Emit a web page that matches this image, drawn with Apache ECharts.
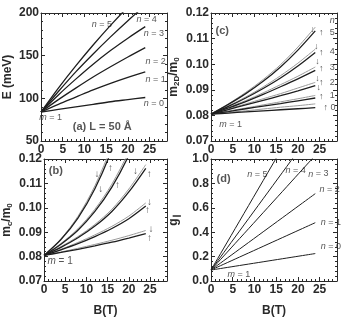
<!DOCTYPE html>
<html>
<head>
<meta charset="utf-8">
<script src="https://cdn.jsdelivr.net/npm/echarts@6/dist/echarts.min.js"></script>
<style>
  html, body { margin: 0; padding: 0; background: #fff; }
  #chart { width: 341px; height: 318px; }
</style>
</head>
<body>
<div id="chart"></div>
<script>
// field values, B in tesla
const fieldB = [0, 4, 8, 12, 16, 20, 24];
const xTicks = [0, 5, 10, 15, 20, 25];

// (a) energy, meV
const energyN0 = [84, 87, 90, 93, 96, 98.5, 101];
const energyN1 = [84, 93, 101.5, 110, 117.5, 124.5, 131];
const energyN2 = [84, 98.5, 112, 125, 137, 148.5, 159.5];
const energyN3 = [84, 104, 122.5, 140, 156, 170.5, 184];
const energyN4 = [84, 108, 131, 152, 172, 191, 209];
const energyN5 = [84, 112, 138, 162.5, 185.5, 207, 227];

// (b) cyclotron mass, spin up (dark) / spin down (light)
const mcUpN0 = [0.0805, 0.0817, 0.0830, 0.0844, 0.0859, 0.0876, 0.0894];
const mcUpN1 = [0.0805, 0.0828, 0.0853, 0.0882, 0.0915, 0.0955, 0.1007];
const mcUpN2 = [0.0805, 0.0838, 0.0877, 0.0925, 0.0985, 0.1065, 0.1162];
const mcUpN3 = [0.0805, 0.0851, 0.0908, 0.0985, 0.1085, 0.1215, 0.1380];
const mcUpN4 = [0.0805, 0.0870, 0.0958, 0.1078, 0.1240, 0.1460, 0.1700];
const mcDnN0 = [0.0805, 0.0819, 0.0834, 0.0850, 0.0867, 0.0886, 0.0907];
const mcDnN1 = [0.0805, 0.0830, 0.0858, 0.0889, 0.0924, 0.0966, 0.1020];
const mcDnN2 = [0.0805, 0.0841, 0.0882, 0.0932, 0.0994, 0.1077, 0.1177];
const mcDnN3 = [0.0805, 0.0854, 0.0914, 0.0994, 0.1097, 0.1230, 0.1390];
const mcDnN4 = [0.0805, 0.0873, 0.0965, 0.1090, 0.1258, 0.1480, 0.1720];

// (c) 2D mass
const m2dUpN0 = [0.0805, 0.0809, 0.0814, 0.0818, 0.0822, 0.0826, 0.0830];
const m2dUpN1 = [0.0805, 0.0815, 0.0826, 0.0836, 0.0846, 0.0857, 0.0868];
const m2dUpN2 = [0.0805, 0.0823, 0.0841, 0.0859, 0.0877, 0.0896, 0.0916];
const m2dUpN3 = [0.0805, 0.0829, 0.0854, 0.0882, 0.0912, 0.0943, 0.0976];
const m2dUpN4 = [0.0805, 0.0835, 0.0868, 0.0905, 0.0946, 0.0993, 0.1046];
const m2dUpN5 = [0.0805, 0.0843, 0.0885, 0.0933, 0.0989, 0.1055, 0.1130];
const m2dDnN0 = [0.0805, 0.0812, 0.0818, 0.0825, 0.0832, 0.0838, 0.0845];
const m2dDnN1 = [0.0805, 0.0817, 0.0829, 0.0841, 0.0853, 0.0865, 0.0878];
const m2dDnN2 = [0.0805, 0.0825, 0.0845, 0.0865, 0.0885, 0.0907, 0.0929];
const m2dDnN3 = [0.0805, 0.0831, 0.0858, 0.0888, 0.0920, 0.0953, 0.0989];
const m2dDnN4 = [0.0805, 0.0837, 0.0872, 0.0911, 0.0955, 0.1004, 0.1059];
const m2dDnN5 = [0.0805, 0.0845, 0.0890, 0.0940, 0.0998, 0.1067, 0.1145];

// (d) g factor, straight lines
const gField = [0, 24];
const gN0 = [0.09, 0.225];
const gN1 = [0.09, 0.478];
const gN2 = [0.09, 0.716];
const gN3 = [0.09, 1.03];
const gN4 = [0.09, 1.258];
const gN5 = [0.09, 1.556];

// annotations [B, value, text]
const notesA = [
  [14, 187, '{i|n} = 5'], [24.3, 192, '{i|n} = 4'], [26, 176.5, '{i|n} = 3'],
  [26.4, 142.6, '{i|n} = 2'], [26.4, 121.5, '{i|n} = 1'], [26, 94.5, '{i|n} = 0'],
  [2.2, 78, '{i|m} = 1'], [14.1, 66.4, '{b|(a) L = 50 Å}']
];
const notesB = [
  [2.8, 0.1151, '{b|(b)}'], [3.8, 0.0781, '{i|m} = 1'],
  [12.5, 0.1139, '↓'], [15.7, 0.1164, '↑'], [13.4, 0.1074, '↓'], [17.3, 0.1093, '↑'],
  [21.6, 0.1151, '↓'], [24.8, 0.1136, '↑'], [24.9, 0.1023, '↓'], [24.4, 0.0991, '↑'],
  [25.2, 0.0914, '↓'], [24.9, 0.0876, '↑']
];
const notesC = [
  [2.6, 0.1130, '{b|(c)}'], [4.5, 0.0763, '{i|m} = 1'],
  [27.9, 0.1169, '{i|n}'], [27.9, 0.1122, '5'], [27.9, 0.1048, '4'], [27.9, 0.0989, '3'],
  [27.9, 0.0930, '2'], [27.9, 0.0876, '1'], [28.1, 0.0829, '0'],
  [23.3, 0.1134, '↓'], [25.4, 0.1122, '↑'], [24.2, 0.1068, '↓'], [25.4, 0.1044, '↑'],
  [24.5, 0.1010, '↓'], [25.4, 0.0985, '↑'], [24.5, 0.0946, '↓'], [25.4, 0.0927, '↑'],
  [24.8, 0.0907, '↓'], [25.4, 0.0872, '↑'], [26.4, 0.0829, '↑']
];
const notesD = [
  [2.9, 0.84, '{b|(d)}'], [10.7, 0.875, '{i|n} = 5'], [19.5, 0.908, '{i|n} = 4'],
  [24.7, 0.877, '{i|n} = 3'], [27.3, 0.746, '{i|n} = 2'], [27.6, 0.477, '{i|n} = 1'],
  [27.6, 0.285, '{i|n} = 0'], [6.4, 0.054, '{i|m} = 1']
];

const FONT = 'Liberation Sans';
const INK = '#2a2a2a';

const panels = [
  { left: 41, top: 13, height: 128, ymin: 50, ymax: 200, step: 50, digits: 0,
    name: 'E (meV)', xName: '' },
  { left: 41, top: 159, height: 130, ymin: 0.07, ymax: 0.12, step: 0.01, digits: 2,
    name: '{t|m}{s|c}{t|/m}{s|0}', xName: 'B(T)' },
  { left: 211, top: 13, height: 128, ymin: 0.07, ymax: 0.12, step: 0.01, digits: 2,
    name: '{t|m}{s|2D}{t|/m}{s|0}', xName: '' },
  { left: 211, top: 159, height: 130, ymin: 0, ymax: 1, step: 0.2, digits: 1,
    name: '{t|g}{s|∥}', xName: 'B(T)' }
];

const nameRich = {
  t: { fontFamily: FONT, fontSize: 12, fontWeight: 'bold', color: INK },
  s: { fontFamily: FONT, fontSize: 8, fontWeight: 'bold', color: INK, verticalAlign: 'bottom', padding: [6, 0, 0, 0] }
};

const grids = [], xAxes = [], yAxes = [];
panels.forEach((p, i) => {
  grids.push({ left: p.left, top: p.top, width: 126, height: p.height, show: false });
  const common = {
    gridIndex: i,
    axisLine: { show: true, onZero: false, lineStyle: { color: INK, width: 1 } },
    axisTick: { show: true, inside: true, length: 4, lineStyle: { color: INK } },
    minorTick: { show: true, splitNumber: 5, length: 2, lineStyle: { color: INK } },
    splitLine: { show: false }
  };
  xAxes.push(Object.assign({}, common, {
    type: 'value', position: 'bottom', min: 0, max: 29, interval: 5,
    axisLabel: { fontFamily: FONT, fontSize: 12, fontWeight: 'bold', color: INK, margin: 3,
      formatter: v => (xTicks.indexOf(v) >= 0 ? String(v) : '') },
    name: p.xName, nameLocation: 'middle', nameGap: 24,
    nameTextStyle: { fontFamily: FONT, fontSize: 12, fontWeight: 'bold', color: INK }
  }));
  xAxes.push(Object.assign({}, common, {
    type: 'value', position: 'top', min: 0, max: 29, interval: 5, axisLabel: { show: false }
  }));
  yAxes.push(Object.assign({}, common, {
    type: 'value', position: 'left', min: p.ymin, max: p.ymax, interval: p.step,
    axisLabel: { fontFamily: FONT, fontSize: 12, fontWeight: 'bold', color: INK, margin: 2,
      formatter: v => v.toFixed(p.digits) },
    name: p.name, nameLocation: 'middle', nameGap: i === 0 ? 27 : 30,
    nameTextStyle: { fontFamily: FONT, fontSize: 12, fontWeight: 'bold', color: INK, rich: nameRich }
  }));
  yAxes.push(Object.assign({}, common, {
    type: 'value', position: 'right', min: p.ymin, max: p.ymax, interval: p.step, axisLabel: { show: false }
  }));
});

const series = [];
function addLine(panel, xs, ys, color, width) {
  series.push({
    type: 'line', xAxisIndex: panel * 2, yAxisIndex: panel * 2,
    data: xs.map((x, k) => [x, ys[k]]), showSymbol: false, silent: true,
    lineStyle: { color: color, width: width }, clip: true, smooth: 0.3
  });
}
function addNotes(panel, notes, size) {
  series.push({
    type: 'scatter', xAxisIndex: panel * 2, yAxisIndex: panel * 2, symbolSize: 0, silent: true,
    data: notes.map(n => ({ value: [n[0], n[1]], label: { formatter: n[2] } })),
    label: {
      show: true, position: 'inside', fontFamily: FONT, fontSize: size, color: INK,
      rich: {
        i: { fontFamily: FONT, fontSize: size, fontStyle: 'italic', color: INK },
        b: { fontFamily: FONT, fontSize: 11, fontWeight: 'bold', color: INK }
      }
    }
  });
}

[energyN0, energyN1, energyN2, energyN3, energyN4, energyN5]
  .forEach(e => addLine(0, fieldB, e, '#1e1e1e', 1.3));

[mcDnN0, mcDnN1, mcDnN2, mcDnN3, mcDnN4].forEach(m => addLine(1, fieldB, m, '#9a9a9a', 1));
[mcUpN0, mcUpN1, mcUpN2, mcUpN3, mcUpN4].forEach(m => addLine(1, fieldB, m, '#1e1e1e', 1.3));

[m2dDnN0, m2dDnN1, m2dDnN2, m2dDnN3, m2dDnN4, m2dDnN5].forEach(m => addLine(2, fieldB, m, '#9a9a9a', 1));
[m2dUpN0, m2dUpN1, m2dUpN2, m2dUpN3, m2dUpN4, m2dUpN5].forEach(m => addLine(2, fieldB, m, '#1e1e1e', 1.3));

[gN0, gN1, gN2, gN3, gN4, gN5].forEach(g => addLine(3, gField, g, '#1e1e1e', 1));

addNotes(0, notesA, 9);
addNotes(1, notesB, 10);
addNotes(2, notesC, 9);
addNotes(3, notesD, 9);

const chart = echarts.init(document.getElementById('chart'), null, { renderer: 'canvas' });
chart.setOption({
  animation: false,
  grid: grids,
  xAxis: xAxes,
  yAxis: yAxes,
  series: series
});
</script>
</body>
</html>
